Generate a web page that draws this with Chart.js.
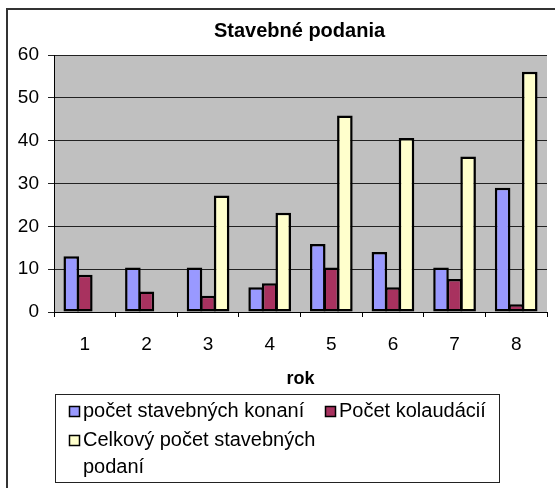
<!DOCTYPE html>
<html>
<head>
<meta charset="utf-8">
<script src="https://cdn.jsdelivr.net/npm/chart.js@4/dist/chart.umd.min.js"></script>
<style>
html,body{margin:0;padding:0;background:#fff;}
canvas{display:block;}
</style>
</head>
<body>
<canvas id="c" width="555" height="488"></canvas>
<script>
const chartTitle = "Stavebné podania";
const xAxisTitle = "rok";
const categories = ["1", "2", "3", "4", "5", "6", "7", "8"];
const seriesNames = ["počet stavebných konaní", "Počet kolaudácií", "Celkový počet stavebných podaní"];
const konania = [13, 10.4, 10.4, 5.8, 15.9, 14, 10.4, 29];
const kolaudacie = [8.7, 4.8, 3.8, 6.7, 10.4, 5.8, 7.7, 1.8];
const celkovo = [null, null, 27.2, 23.2, 45.9, 40.6, 36.3, 56.1];
const yTicks = [0, 10, 20, 30, 40, 50, 60];

const FONT = "'Liberation Sans', Arial, sans-serif";
const colors = ["#9999FF", "#A8325F", "#FFFFCC"];

const framePlugin = {
  id: 'frame',
  beforeDraw(chart) {
    const ctx = chart.ctx, a = chart.chartArea;
    ctx.save();
    ctx.fillStyle = '#fff';
    ctx.fillRect(0, 0, chart.width, chart.height);
    ctx.strokeStyle = '#333';
    ctx.lineWidth = 2;
    ctx.strokeRect(7, 9, 700, 700);
    ctx.fillStyle = '#c0c0c0';
    ctx.fillRect(a.left, a.top, a.right - a.left, a.bottom - a.top);
    ctx.restore();
  },
  afterDraw(chart) {
    const ctx = chart.ctx, a = chart.chartArea;
    ctx.save();
    ctx.fillStyle = '#000';
    ctx.font = "bold 20px " + FONT;
    ctx.textAlign = 'center';
    ctx.textBaseline = 'alphabetic';
    ctx.fillText(chartTitle, (a.left + a.right) / 2 - 1, 37);
    ctx.fillStyle = '#fff';
    ctx.fillRect(55, 394, 444, 88);
    ctx.strokeStyle = '#222';
    ctx.lineWidth = 1;
    ctx.strokeRect(55.5, 394.5, 444, 88);
    ctx.font = "20px " + FONT;
    ctx.textAlign = 'left';
    ctx.textBaseline = 'middle';
    const ds = chart.data.datasets;
    const items = [
      {i: 0, x: 69, y: 411.5},
      {i: 1, x: 325, y: 411.5},
      {i: 2, x: 69, y: 440.5}
    ];
    items.forEach(it => {
      const d = ds[it.i];
      ctx.fillStyle = d.backgroundColor;
      ctx.fillRect(it.x, it.y - 5.5, 11, 11);
      ctx.strokeStyle = '#000';
      ctx.lineWidth = 1.5;
      ctx.strokeRect(it.x + 0.5, it.y - 5, 10, 10);
      const words = d.label.split(' ');
      const lines = [];
      let cur = '';
      words.forEach(w => {
        const t = cur ? cur + ' ' + w : w;
        if (ctx.measureText(t).width > 250 && cur) { lines.push(cur); cur = w; }
        else cur = t;
      });
      lines.push(cur);
      ctx.fillStyle = '#000';
      lines.forEach((l, k) => ctx.fillText(l, it.x + 14, it.y + k * 26.5));
    });
    ctx.restore();
  }
};

new Chart(document.getElementById('c'), {
  type: 'bar',
  data: {
    labels: categories,
    datasets: [
      {label: seriesNames[0], data: konania, backgroundColor: colors[0]},
      {label: seriesNames[1], data: kolaudacie, backgroundColor: colors[1]},
      {label: seriesNames[2], data: celkovo, backgroundColor: colors[2]}
    ].map(d => Object.assign(d, {
      borderColor: '#000', borderWidth: 2.5, borderSkipped: false, inflateAmount: 0,
      categoryPercentage: 0.66, barPercentage: 1.15
    }))
  },
  options: {
    responsive: false,
    animation: false,
    devicePixelRatio: 1,
    layout: {padding: {top: 55, left: 0, right: 8, bottom: 98}},
    plugins: {legend: {display: false}, title: {display: false}, tooltip: {enabled: false}},
    scales: {
      x: {
        grid: {display: true, drawOnChartArea: false, drawTicks: true, tickLength: 5, color: '#000', offset: true},
        border: {display: true, color: '#000', width: 1},
        ticks: {color: '#000', font: {family: FONT, size: 19}, padding: 16, maxRotation: 0},
        title: {display: true, text: xAxisTitle, color: '#000', font: {family: FONT, size: 18, weight: 'bold'}, padding: {top: 0, bottom: 0}},
        afterFit(s) { s.height = 78; }
      },
      y: {
        min: 0, max: 60,
        afterBuildTicks(s) { s.ticks = yTicks.map(v => ({value: v})); },
        grid: {color: '#222', lineWidth: 1, tickLength: 6, drawTicks: true},
        border: {display: true, color: '#000', width: 1},
        ticks: {color: '#000', font: {family: FONT, size: 19}, padding: 9},
        afterFit(s) { s.width = 54; }
      }
    }
  },
  plugins: [framePlugin]
});
</script>
</body>
</html>
